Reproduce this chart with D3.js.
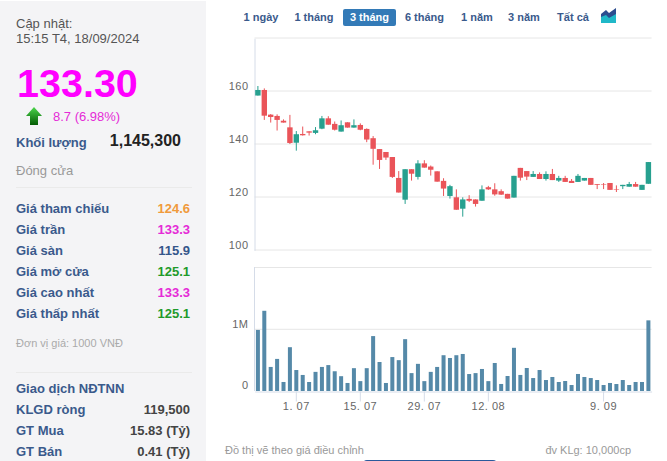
<!DOCTYPE html>
<html>
<head>
<meta charset="utf-8">
<script src="https://cdn.jsdelivr.net/npm/d3@7"></script>
<style>
  html, body { margin: 0; padding: 0; background: #fff; }
  svg { display: block; }
  text { font-family: "Liberation Sans", Arial, sans-serif; }
  .axis text { font-family: "Liberation Sans", Arial, sans-serif; font-size: 11px; fill: #666; letter-spacing: 0.5px; }
</style>
</head>
<body>
<svg id="chart"></svg>
<script>
const dates = ['21.06','24.06','25.06','26.06','27.06','28.06','1.07','2.07','3.07','4.07','5.07','8.07','9.07','10.07','11.07','12.07','15.07','16.07','17.07','18.07','19.07','22.07','23.07','24.07','25.07','26.07','29.07','30.07','31.07','1.08','2.08','5.08','6.08','7.08','8.08','9.08','12.08','13.08','14.08','15.08','16.08','19.08','20.08','21.08','22.08','23.08','26.08','27.08','28.08','29.08','30.08','4.09','5.09','6.09','9.09','10.09','11.09','12.09','13.09','16.09','17.09','18.09']
const opens = [158.4,160.5,151.2,150.7,148.9,146.4,140.6,143.9,144.9,144.3,145.9,149.8,147.7,144.8,148.3,146.3,147.3,145.8,142.3,138.2,137.1,135.2,127.3,119.1,130.6,127.7,132.8,131.6,129.8,126.2,120.5,120,115.7,119.4,119.2,118.7,123.8,123,122.3,121.3,119.9,131.1,129.9,127.7,128.8,126.9,128.8,126.3,127.3,126.2,125.8,126.3,127.3,125,125,125.4,123.1,124.2,124,125,122.8,125.1]
const highs = [162,161.1,151.4,151.3,149.4,151.1,145,146.7,144.9,146.5,150.7,150.6,148.6,149,148.3,149.4,147.9,146,143.1,138.2,137.1,135.2,129.9,130.6,130.6,134,134,132,129.8,127.2,124.7,123,120,120.8,119.2,124.5,124.3,125.3,123,121.3,128.1,131.1,129.9,129.9,129.4,129.8,130.7,128.1,128.1,126.9,128.8,127.3,127.3,125,125.4,125.4,124.5,124.7,125.8,125.8,124.7,133.3]
const lows = [158.4,149.2,148.2,145.2,148.2,140.1,137.6,143.3,143.3,143.8,145.7,147.4,145.2,144.8,146.3,146.3,145.3,140.8,132.3,130.7,134.1,127.3,121.8,117.5,126.3,126.7,131.2,128.2,125.9,120.5,119.5,115.3,112.7,118.2,116.5,118.7,122.8,120.6,120.9,119.5,119.9,126.3,126.5,127.7,126.9,126.3,126.5,125.8,125.8,125.4,125.8,126.3,124.7,123.1,123.1,122.8,122,123.1,124,124,122.8,125.1]
const closes = [160.5,150.8,150.3,149.2,148.2,140.5,143.8,143.4,144.4,145.3,149.8,147.4,145.5,147.2,146.3,147.2,145.5,141.8,138.3,134.1,135,127.7,121.8,130.6,128.9,132.8,131.2,130.4,125.9,123.3,124.2,115.3,119.2,118.7,117.5,123,123,121.1,121,119.5,128.1,127.4,127.8,128.8,126.9,128.8,126.5,127.3,125.8,125.4,128.1,127.3,124.7,124.7,124.8,122.8,122.9,124.7,125,124,124.7,133.3]
const volumes = [0.99,1.3,0.39,0.52,0.146,0.71,0.34,0.26,0.146,0.31,0.39,0.42,0.32,0.24,0.13,0.37,0.16,0.37,0.89,0.47,0.13,0.55,0.5,0.84,0.29,0.44,0.16,0.31,0.39,0.58,0.535,0.58,0.6,0.275,0.29,0.357,0.16,0.454,0.114,0.243,0.7,0.26,0.373,0.21,0.34,0.178,0.227,0.146,0.162,0.097,0.276,0.227,0.21,0.178,0.097,0.13,0.113,0.178,0.097,0.146,0.146,1.145]

const priceTicks = [100, 120, 140, 160]
const priceGrid = [100, 120, 140, 160, 180]
const volumeTicks = [0, 1]
const dateTicks = ['1.07', '15.07', '29.07', '12.08', '9.09']

const ranges = ['1 ngày', '1 tháng', '3 tháng', '6 tháng', '1 năm', '3 năm', 'Tất cả']
const activeRange = '3 tháng'

const priceLabels = ['Giá tham chiếu', 'Giá trần', 'Giá sàn', 'Giá mở cửa', 'Giá cao nhất', 'Giá thấp nhất']
const priceValues = ['124.6', '133.3', '115.9', '125.1', '133.3', '125.1']
const priceColors = ['#f09a3c', '#e52bd6', '#34568b', '#1f9a2a', '#e52bd6', '#1f9a2a']
const foreignLabels = ['KLGD ròng', 'GT Mua', 'GT Bán']
const foreignValues = ['119,500', '15.83 (Tỷ)', '0.41 (Tỷ)']

const width = 667, height = 461
const navy = '#3a5a8c'
const red = '#ea5459', teal = '#27a08f', volColor = '#5589a8'
const axisColor = '#d5dce8', gridColor = '#e6e6e6'

const svg = d3.select('#chart').attr('width', width).attr('height', height)

const x = d3.scaleBand().domain(dates).range([254.7, 651.6])
const y = d3.scaleLinear().domain([100, 180]).range([250.3, 38.3])
const yVol = d3.scaleLinear().domain([0, 1]).range([391, 329.3])
const cx = d => x(d) + x.bandwidth() / 2

// Side panel
svg.append('rect').attr('x', 0).attr('y', 1).attr('width', 206).attr('height', height)
  .attr('fill', '#f4f4f6')

const label = (px, py, str, size, color, opts = {}) => svg.append('text')
  .attr('x', px).attr('y', py).text(str)
  .attr('font-size', size).attr('fill', color)
  .attr('font-weight', opts.bold ? 'bold' : 'normal')
  .attr('text-anchor', opts.anchor || 'start')

label(16, 28, 'Cập nhật:', 13, '#555')
label(16, 43, '15:15 T4, 18/09/2024', 13, '#555')
label(17, 97, '133.30', 39.5, '#ff00ff', { bold: true })
label(53, 121, '8.7 (6.98%)', 13, '#e52bd6')
label(16, 147, 'Khối lượng', 13, navy, { bold: true })
label(181, 146, '1,145,300', 16, '#222', { bold: true, anchor: 'end' })
label(16, 175, 'Đóng cửa', 13, '#999')

const arrowGrad = svg.append('defs').append('linearGradient')
  .attr('id', 'arrowGrad').attr('x1', 0).attr('y1', 0).attr('x2', 0).attr('y2', 1)
arrowGrad.append('stop').attr('offset', '0%').attr('stop-color', '#4cd64c')
arrowGrad.append('stop').attr('offset', '100%').attr('stop-color', '#045c04')
svg.append('path').attr('d', 'M34 107 L42 116 L38 116 L38 125 L30 125 L30 116 L26 116 Z')
  .attr('fill', 'url(#arrowGrad)')

svg.append('line').attr('x1', 16).attr('x2', 192).attr('y1', 187.5).attr('y2', 187.5).attr('stroke', '#eaeaea')
svg.append('line').attr('x1', 16).attr('x2', 192).attr('y1', 372.5).attr('y2', 372.5).attr('stroke', '#eaeaea')

priceLabels.forEach((d, i) => {
  const py = 213 + i * 21
  label(16, py, d, 13, navy, { bold: true })
  label(190, py, priceValues[i], 13, priceColors[i], { bold: true, anchor: 'end' })
})
label(16, 347, 'Đơn vị giá: 1000 VNĐ', 11, '#aaa')

const foreignHead = label(16, 393, 'Giao dịch ', 13, navy, { bold: true })
foreignHead.append('tspan').text('NĐTNN')
foreignLabels.forEach((d, i) => {
  const py = 414 + i * 21
  label(16, py, d, 13, navy, { bold: true })
  label(190, py, foreignValues[i], 13, '#444', { bold: true, anchor: 'end' })
})

// Range selector
svg.append('rect').attr('x', 343).attr('y', 9).attr('width', 53).attr('height', 17).attr('rx', 2)
  .attr('fill', '#337ab7')
const rangeX = [261, 314, 369.5, 424.5, 477, 524, 573]
ranges.forEach((d, i) => {
  label(rangeX[i], 21, d, 11, d === activeRange ? '#fff' : navy, { bold: true, anchor: 'middle' })
})
svg.append('path').attr('d', 'M601 23 L601 14 L606 10 L609 13 L616 8 L616 23 Z').attr('fill', '#2c4d8f')
svg.append('path').attr('d', 'M601 23 L601 17 L606 15 L609 18 L616 14 L616 23 Z').attr('fill', '#20b8c8')

// Grid lines
svg.append('g').selectAll('line').data(priceGrid).enter().append('line')
  .attr('x1', 254.5).attr('x2', 651.6)
  .attr('y1', d => Math.round(y(d))).attr('y2', d => Math.round(y(d)))
  .attr('stroke', gridColor)
svg.append('line').attr('x1', 254.5).attr('x2', 651.6)
  .attr('y1', yVol(1)).attr('y2', yVol(1)).attr('stroke', gridColor)
svg.append('line').attr('x1', 254.5).attr('x2', 651.6).attr('y1', 267.5).attr('y2', 267.5).attr('stroke', gridColor)

// Axes
const priceAxis = svg.append('g').attr('class', 'axis')
  .attr('transform', 'translate(254.5,0)')
  .call(d3.axisLeft(y).tickValues(priceTicks).tickSize(0).tickPadding(6))
priceAxis.select('.domain').attr('stroke', axisColor)
priceAxis.selectAll('text').attr('dy', '-2.3')

const volAxis = svg.append('g').attr('class', 'axis')
  .attr('transform', 'translate(254.5,0)')
  .call(d3.axisLeft(yVol).tickValues(volumeTicks).tickSize(0).tickPadding(6)
    .tickFormat(d => d === 0 ? '0' : d + 'M'))
volAxis.select('.domain').remove()
volAxis.selectAll('text').attr('dy', '-2.3')
svg.append('line').attr('x1', 254.5).attr('x2', 254.5).attr('y1', 267).attr('y2', 391).attr('stroke', axisColor)

const dateAxis = svg.append('g').attr('class', 'axis')
  .attr('transform', 'translate(0,391.5)')
  .call(d3.axisBottom(x).tickValues(dateTicks).tickSizeInner(10).tickSizeOuter(0).tickPadding(2)
    .tickFormat(d => d.replace('.', '. ')))
dateAxis.select('.domain').attr('stroke', axisColor)
dateAxis.selectAll('line').attr('stroke', axisColor)
dateAxis.selectAll('text').attr('y', 18.5).attr('dy', 0)

// Candles
const color = i => closes[i] >= opens[i] ? teal : red
svg.append('g').selectAll('line').data(dates).enter().append('line')
  .attr('x1', d => cx(d)).attr('x2', d => cx(d))
  .attr('y1', (d, i) => y(highs[i])).attr('y2', (d, i) => y(lows[i]))
  .attr('stroke', (d, i) => color(i))
svg.append('g').selectAll('rect').data(dates).enter().append('rect')
  .attr('x', d => cx(d) - 2.7)
  .attr('width', 5.4)
  .attr('y', (d, i) => y(Math.max(opens[i], closes[i])))
  .attr('height', (d, i) => Math.abs(y(opens[i]) - y(closes[i])))
  .attr('fill', (d, i) => color(i))

// Volume
svg.append('g').selectAll('rect').data(dates).enter().append('rect')
  .attr('x', d => cx(d) - 2)
  .attr('width', 4)
  .attr('y', (d, i) => yVol(volumes[i]))
  .attr('height', (d, i) => yVol(0) - yVol(volumes[i]))
  .attr('fill', volColor)

// Footer
label(225, 454, 'Đồ thị vẽ theo giá điều chỉnh', 11, '#999')
label(631, 454, 'đv KLg: 10,000cp', 11, '#999', { anchor: 'end' })
svg.append('rect').attr('x', 362).attr('y', 460).attr('width', 136).attr('height', 10).attr('rx', 5)
  .attr('fill', '#2a5a9c')
</script>
</body>
</html>
